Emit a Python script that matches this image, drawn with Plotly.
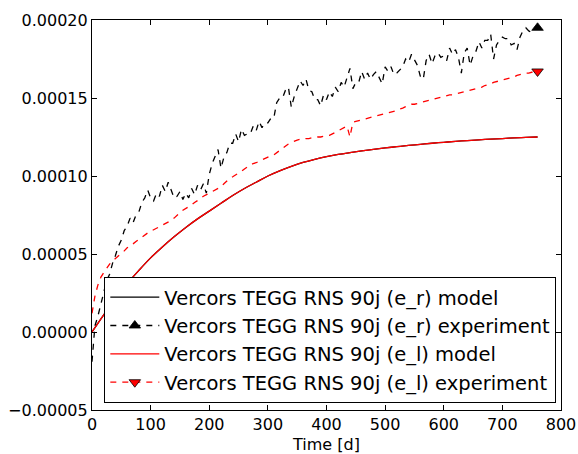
import plotly.graph_objects as go

# Time axis (days)
t_model = list(range(0, 761, 20))
t_exp = list(range(0, 761, 5))

# Model strain (x 1e-5), identical for e_r and e_l
model_1e5 = [
    0.0, 1.1, 2.15, 3.1, 3.95, 4.75, 5.45, 6.1, 6.7, 7.25,
    7.75, 8.25, 8.75, 9.2, 9.6, 10.0, 10.33, 10.62, 10.87, 11.07,
    11.24, 11.38, 11.5, 11.61, 11.71, 11.8, 11.88, 11.96, 12.03, 12.1,
    12.16, 12.22, 12.27, 12.32, 12.36, 12.4, 12.44, 12.47, 12.5,
]

# Measured e_r (x 1e-5), every 5 days
er_exp_1e5 = [
    -1.9, 0.4, 1.0, 1.8, 2.6, 3.3, 3.7, 4.4, 4.9, 5.5,
    5.9, 6.5, 6.8, 7.3, 7.0, 7.5, 7.7, 8.3, 8.6, 9.1,
    8.6, 8.4, 8.9, 8.7, 9.4, 9.0, 9.6, 9.1, 8.6, 8.7,
    9.0, 8.5, 8.9, 8.6, 9.2, 8.8, 9.4, 9.1, 9.5, 8.9,
    10.1, 10.8, 11.3, 11.7, 10.5, 11.2, 11.5, 12.1, 12.1, 12.7,
    12.2, 13.0, 12.6, 12.7, 12.7, 13.2, 12.9, 13.5, 13.1, 13.4,
    13.4, 13.7, 13.7, 14.7, 15.0, 15.0, 15.5, 15.7, 14.4, 15.1,
    15.6, 16.1, 15.8, 16.2, 15.5, 15.4, 14.9, 14.9, 14.5, 15.2,
    14.9, 15.4, 15.1, 15.7, 15.4, 16.0, 15.7, 16.3, 16.9, 15.6,
    16.0, 16.0, 16.7, 16.2, 16.6, 16.2, 16.5, 16.7, 16.3, 15.9,
    17.0, 16.7, 17.0, 16.5, 16.6, 16.8, 17.0, 17.5, 17.3, 17.8,
    17.4, 17.1, 16.4, 16.2, 17.4, 17.8, 17.2, 17.7, 17.9, 17.6,
    17.7, 17.4, 18.2, 17.8, 18.1, 17.6, 16.6, 17.9, 18.2, 17.1,
    17.7, 18.0, 18.6, 18.2, 18.7, 18.7, 19.1, 17.5, 18.4, 18.7,
    18.9, 18.8, 18.8, 18.4, 18.5, 18.1, 18.9, 19.3, 19.5, 19.3,
    19.2, 19.4, 19.5,
]

# Measured e_l (x 1e-5), every 5 days
el_exp_1e5 = [
    1.2, 2.3, 3.0, 3.5, 3.8, 4.1, 4.35, 4.55, 4.7, 4.85,
    5.0, 5.2, 5.4, 5.5, 5.65, 5.8, 5.95, 6.1, 6.25, 6.35,
    6.45, 6.55, 6.6, 6.7, 6.8, 6.9, 7.0, 7.15, 7.3, 7.5,
    7.65, 7.8, 7.9, 8.0, 8.15, 8.3, 8.4, 8.55, 8.7, 8.8,
    8.9, 8.95, 9.1, 9.2, 9.3, 9.5, 9.7, 9.85, 9.95, 10.05,
    10.15, 10.3, 10.45, 10.6, 10.7, 10.8, 10.85, 10.95, 11.05, 11.1,
    11.2, 11.3, 11.35, 11.5, 11.65, 11.8, 11.95, 12.05, 12.15, 12.25,
    12.3, 12.35, 12.35, 12.4, 12.4, 12.45, 12.45, 12.5, 12.5, 12.55,
    12.6, 12.6, 12.7, 12.8, 12.9, 13.0, 13.1, 13.2, 12.5, 13.45,
    13.5, 13.55, 13.6, 13.65, 13.7, 13.75, 13.8, 13.85, 13.9, 13.95,
    14.0, 14.05, 14.1, 14.15, 14.2, 14.3, 14.35, 14.45, 14.55, 14.6,
    14.6, 14.65, 14.7, 14.75, 14.8, 14.85, 14.9, 14.95, 15.0, 15.05,
    15.1, 15.15, 15.2, 15.2, 15.25, 15.3, 15.35, 15.4, 15.45, 15.5,
    15.55, 15.6, 15.65, 15.7, 15.8, 15.85, 15.9, 16.0, 16.05, 16.1,
    16.15, 16.2, 16.25, 16.3, 16.35, 16.45, 16.5, 16.55, 16.6, 16.6,
    16.65, 16.65, 16.7,
]

labels = [
    "Vercors TEGG RNS 90j (e_r) model",
    "Vercors TEGG RNS 90j (e_r) experiment",
    "Vercors TEGG RNS 90j (e_l) model",
    "Vercors TEGG RNS 90j (e_l) experiment",
]

SCALE = 1e-5
model = [v * SCALE for v in model_1e5]
er_exp = [v * SCALE for v in er_exp_1e5]
el_exp = [v * SCALE for v in el_exp_1e5]

RED = "#ff0000"
LW = 1.3
DASH = "6px,6px"

fig = go.Figure()

series = [
    (t_model, model, "black", "solid", None),
    (t_exp, er_exp, "black", DASH, "triangle-up"),
    (t_model, model, RED, "solid", None),
    (t_exp, el_exp, RED, DASH, "triangle-down"),
]

for (x, y, color, dash, symbol), name in zip(series, labels):
    fig.add_trace(go.Scatter(
        x=x, y=y, mode="lines", showlegend=False, hoverinfo="skip",
        line=dict(color=color, width=LW, dash=dash,
                  shape="spline" if dash == "solid" else "linear"),
    ))
    if symbol:
        # end-point marker
        fig.add_trace(go.Scatter(
            x=[x[-1]], y=[y[-1]], mode="markers", showlegend=False,
            marker=dict(symbol=symbol, size=10, color=color,
                        line=dict(color="black", width=0.8)),
        ))

# legend entries (line sample with marker in the middle)
for (x, y, color, dash, symbol), name in zip(series, labels):
    fig.add_trace(go.Scatter(
        x=[None], y=[None], name=name,
        mode="lines+markers" if symbol else "lines",
        line=dict(color=color, width=LW, dash=dash),
        marker=dict(symbol=symbol or "circle", size=10, color=color,
                    line=dict(color="black", width=0.8)),
    ))

axis_common = dict(
    showgrid=False, zeroline=False, showline=True, linecolor="black",
    linewidth=1.2, mirror="allticks", ticks="inside", ticklen=5,
    tickwidth=1, tickcolor="black", automargin=False,
    tickfont=dict(family="DejaVu Sans", size=16, color="black"),
)

fig.update_layout(
    width=578, height=454,
    margin=dict(l=92, r=17, t=20, b=44, autoexpand=False),
    paper_bgcolor="white", plot_bgcolor="white",
    font=dict(family="DejaVu Sans", color="black"),
    xaxis=dict(range=[0, 800], dtick=100, tick0=0, ticklabelstandoff=0,
               title=dict(text="Time [d]", font=dict(size=16), standoff=6),
               **axis_common),
    yaxis=dict(range=[-5e-5, 2e-4], dtick=5e-5, tick0=0,
               tickformat=".5f", **axis_common),
    legend=dict(
        x=0.99, xanchor="right", y=0.018, yanchor="bottom",
        bgcolor="white", bordercolor="black", borderwidth=1,
        font=dict(family="DejaVu Sans", size=19.5, color="black"),
        itemwidth=49, tracegroupgap=0,
    ),
)

fig.write_html("out.html")
